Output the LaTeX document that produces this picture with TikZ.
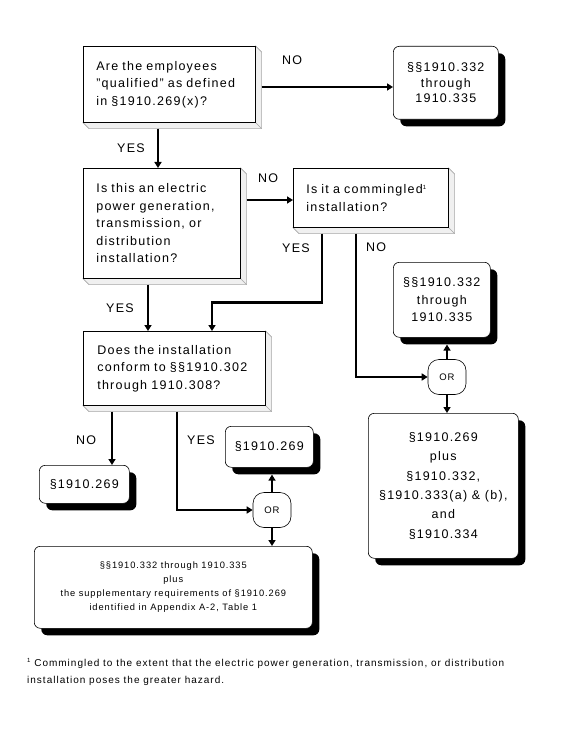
\documentclass[tikz,border=0pt]{standalone}
\usepackage{fontspec}
\setmainfont{Liberation Sans}[LetterSpace=10]
\usetikzlibrary{calc,shadows,arrows.meta}
\newcommand\supone{{\fontsize{6}{6}\selectfont\raisebox{4pt}{1}}}
\begin{document}
\begin{tikzpicture}[x=1pt,y=-1pt,
  qbox/.style={draw=black, line width=0.6pt, fill=white, align=left, inner xsep=13pt, inner ysep=0pt,
    anchor=north west, font=\fontsize{12.5}{17.5}\selectfont},
  rbox/.style={draw=black, line width=0.6pt, fill=white, rounded corners=6pt, align=center, inner sep=0pt,
    anchor=north west, drop shadow={shadow xshift=7pt, shadow yshift=-7pt, fill=black, opacity=1},
    font=\fontsize{12.5}{16}\selectfont},
  orbox/.style={draw=black, line width=0.6pt, fill=white, rounded corners=11pt, minimum width=38pt,
    minimum height=35pt, inner sep=0pt, font=\fontsize{9.5}{10}\selectfont},
  bevelst/.style={draw=gray!70, line width=0.6pt, fill=gray!12},
  conn/.style={line width=2.6pt, -{Triangle[length=6pt,width=7pt]}},
  lbl/.style={font=\fontsize{12.5}{14}\selectfont, inner sep=0pt},
]
\useasboundingbox (0,0) rectangle (564,730);
% question boxes
\node[qbox, minimum width=172pt, minimum height=76pt, text width=146pt] (q1) at (83,46)
  {Are the employees\\"qualified" as defined\\in §1910.269(x)?};
\node[qbox, minimum width=157pt, minimum height=110pt, text width=131pt] (q3) at (83,168)
  {Is this an electric\\power generation,\\transmission, or\\distribution\\installation?};
\node[qbox, minimum width=155pt, minimum height=59pt, text width=129pt, inner xsep=12pt] (q4) at (293,168)
  {Is it a commingled\supone\\installation?};
\node[qbox, minimum width=182pt, minimum height=74pt, text width=154pt, inner xsep=14pt] (q5) at (83,331)
  {Does the installation\\conform to §§1910.302\\through 1910.308?};
\foreach \n in {q1,q3,q4,q5}{
  \filldraw[bevelst] (\n.north east) -- ++(6,6) -- ($(\n.south east)+(6,6)$) -- ($(\n.south west)+(6,6)$)
    -- (\n.south west) -- (\n.south east) -- cycle;
  \draw[bevelst] (\n.south east) -- ++(6,6);
  \draw[line width=0.6pt] (\n.north west) rectangle (\n.south east);
}
% result boxes
\node[rbox, minimum width=105pt, minimum height=73pt, font=\fontsize{12.5}{15.5}\selectfont] (r1) at (393,46)
  {§§1910.332\\through\\1910.335};
\node[rbox, minimum width=90pt, minimum height=38pt] (r6) at (39,465) {§1910.269};
\node[rbox, minimum width=88pt, minimum height=41pt] (r7) at (225,426) {§1910.269};
\node[rbox, minimum width=278pt, minimum height=82pt, font=\fontsize{9.3}{14}\selectfont] (r8) at (34,546)
  {§§1910.332 through 1910.335\\plus\\the supplementary requirements of §1910.269\\identified in Appendix A-2, Table 1};
\node[rbox, minimum width=97pt, minimum height=75pt, font=\fontsize{12.5}{17.5}\selectfont] (r9) at (393,262)
  {§§1910.332\\through\\1910.335};
\node[rbox, minimum width=150pt, minimum height=145pt, font=\fontsize{12.5}{19.4}\selectfont] (r10) at (368,413)
  {§1910.269\\plus\\§1910.332,\\§1910.333(a) \& (b),\\and\\§1910.334};
% OR nodes
\node[orbox] (or1) at (447,377) {OR};
\node[orbox] (or2) at (272,510) {OR};
% connectors
\draw[conn] ($(q1.north east)+(6,41)$) -- ($(r1.north west)+(0,41)$);
\draw[conn] ($(q1.south west)+(75,6)$) -- ($(q3.north west)+(75,0)$);
\draw[conn] ($(q3.north east)+(6,32)$) -- ($(q4.north west)+(0,32)$);
\draw[conn] ($(q3.south west)+(65,6)$) -- ($(q5.north west)+(65,0)$);
\draw[conn] ($(q4.south west)+(29,6)$) -- ++(0,69) -| ($(q5.north west)+(129,0)$);
\draw[conn] ($(q4.south west)+(63,6)$) |- (or1.west);
\draw[conn] (or1.north) -- ($(or1.north |- r9.south)+(0,7)$);
\draw[conn] (or1.south) -- (or1.south |- r10.north);
\coordinate (q5n) at ($(q5.south west)+(29,6)$);
\coordinate (q5y) at ($(q5.south west)+(94,6)$);
\draw[conn] (q5n) -- (q5n |- r6.north);
\draw[conn] (q5y) |- (or2.west);
\draw[conn] (or2.north) -- ($(or2.north |- r7.south)+(0,7)$);
\draw[conn] (or2.south) -- (or2.south |- r8.north);
% labels
\node[lbl] (l1) at (292,60) {NO};
\node[lbl] (l2) at (131,148) {YES};
\node[lbl] (l3) at (268,178) {NO};
\node[lbl] (l4) at (296,248) {YES};
\node[lbl] (l5) at (376,247) {NO};
\node[lbl] (l6) at (120,308) {YES};
\node[lbl] (l7) at (86,440) {NO};
\node[lbl] (l8) at (201,440) {YES};
% footnote
\node[anchor=north west, inner sep=0pt, align=left, font=\fontsize{10}{17}\selectfont] (fn) at (27,658)
  {\supone\ Commingled to the extent that the electric power generation, transmission, or distribution\\installation poses the greater hazard.};
\end{tikzpicture}
\end{document}
